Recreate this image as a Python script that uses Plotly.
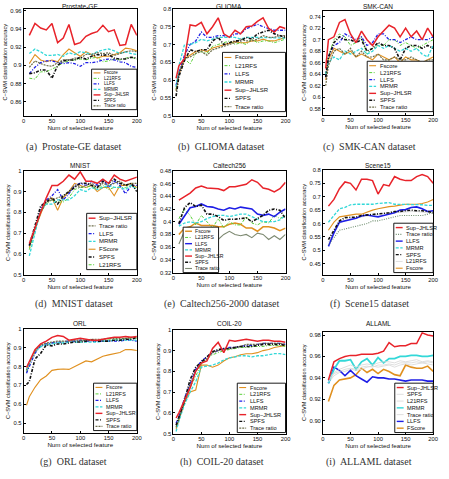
import plotly.graph_objects as go

W, H = 449, 479

# ---------------- data ----------------
X5 = [5] + list(range(10, 201, 10))
X10 = list(range(10, 201, 10))

prostate = {
    "Fscore":      [0.902,0.912,0.906,0.904,0.906,0.904,0.912,0.918,0.914,0.910,0.915,0.912,0.908,0.910,0.910,0.912,0.914,0.919,0.918,0.916],
    "L21RFS":      [0.886,0.885,0.893,0.893,0.896,0.899,0.903,0.905,0.906,0.907,0.906,0.908,0.909,0.904,0.905,0.907,0.906,0.908,0.909,0.907],
    "LLFS":        [0.891,0.898,0.903,0.905,0.905,0.903,0.902,0.903,0.902,0.899,0.903,0.903,0.904,0.906,0.907,0.906,0.904,0.903,0.899,0.898],
    "MRMR":        [0.913,0.918,0.915,0.911,0.911,0.912,0.910,0.914,0.912,0.915,0.914,0.912,0.915,0.917,0.918,0.916,0.913,0.915,0.913,0.912],
    "Sup-JHLSR":   [0.933,0.946,0.941,0.939,0.946,0.925,0.930,0.945,0.923,0.925,0.932,0.935,0.937,0.944,0.937,0.939,0.922,0.923,0.945,0.933],
    "SPFS":        [0.891,0.892,0.895,0.895,0.886,0.900,0.905,0.906,0.906,0.909,0.907,0.910,0.912,0.911,0.912,0.908,0.907,0.907,0.909,0.908],
    "Trace ratio": [0.898,0.905,0.902,0.900,0.899,0.903,0.906,0.906,0.908,0.908,0.912,0.912,0.914,0.913,0.914,0.911,0.913,0.915,0.916,0.915],
}
glioma = {
    "Fscore":      [0.570,0.615,0.660,0.670,0.680,0.685,0.680,0.690,0.695,0.700,0.705,0.708,0.705,0.705,0.710,0.710,0.715,0.710,0.710,0.715,0.720],
    "L21RFS":      [0.575,0.620,0.660,0.645,0.675,0.680,0.675,0.695,0.700,0.705,0.710,0.700,0.705,0.700,0.715,0.705,0.710,0.710,0.705,0.710,0.715],
    "LLFS":        [0.585,0.620,0.670,0.700,0.710,0.735,0.720,0.720,0.725,0.725,0.720,0.730,0.730,0.745,0.750,0.757,0.750,0.745,0.740,0.740,0.740],
    "MRMR":        [0.580,0.640,0.700,0.700,0.705,0.715,0.710,0.715,0.720,0.720,0.720,0.720,0.715,0.720,0.720,0.720,0.720,0.720,0.720,0.720,0.718],
    "Sup-JHLSR":   [0.605,0.640,0.660,0.755,0.752,0.762,0.730,0.750,0.775,0.730,0.720,0.740,0.730,0.750,0.752,0.765,0.775,0.745,0.735,0.750,0.745],
    "SPFS":        [0.555,0.610,0.655,0.685,0.680,0.685,0.685,0.710,0.720,0.700,0.705,0.710,0.710,0.720,0.715,0.730,0.735,0.740,0.730,0.725,0.720],
    "Trace ratio": [0.570,0.620,0.660,0.665,0.675,0.680,0.670,0.685,0.690,0.695,0.700,0.705,0.715,0.710,0.710,0.715,0.725,0.720,0.720,0.725,0.725],
}
smkcan = {
    "Fscore":      [0.630,0.665,0.685,0.680,0.675,0.680,0.670,0.675,0.670,0.665,0.675,0.670,0.665,0.670,0.660,0.670,0.665,0.665,0.660,0.665,0.670],
    "L21RFS":      [0.640,0.670,0.700,0.710,0.705,0.690,0.695,0.705,0.675,0.685,0.690,0.690,0.700,0.700,0.690,0.695,0.690,0.685,0.690,0.695,0.700],
    "LLFS":        [0.635,0.670,0.690,0.695,0.710,0.705,0.700,0.705,0.690,0.695,0.710,0.710,0.700,0.700,0.695,0.700,0.705,0.700,0.700,0.700,0.705],
    "MRMR":        [0.640,0.660,0.670,0.665,0.680,0.675,0.680,0.685,0.675,0.680,0.690,0.685,0.690,0.685,0.680,0.685,0.680,0.685,0.675,0.670,0.690],
    "Sup-JHLSR":   [0.650,0.700,0.705,0.730,0.735,0.710,0.695,0.715,0.700,0.690,0.705,0.715,0.725,0.720,0.705,0.720,0.705,0.715,0.700,0.720,0.705],
    "SPFS":        [0.635,0.670,0.695,0.705,0.700,0.700,0.695,0.700,0.680,0.685,0.695,0.690,0.690,0.685,0.665,0.685,0.690,0.690,0.685,0.690,0.685],
    "Trace ratio": [0.620,0.655,0.680,0.685,0.675,0.685,0.670,0.680,0.670,0.670,0.675,0.665,0.665,0.670,0.665,0.665,0.670,0.665,0.660,0.665,0.665],
}
mnist = {
    "Fscore":      [0.63,0.72,0.79,0.86,0.87,0.81,0.87,0.90,0.94,0.93,0.92,0.93,0.90,0.92,0.92,0.88,0.93,0.93,0.94,0.92],
    "L21RFS":      [0.62,0.71,0.80,0.84,0.86,0.85,0.85,0.87,0.91,0.92,0.92,0.93,0.91,0.93,0.91,0.92,0.92,0.92,0.93,0.92],
    "LLFS":        [0.64,0.72,0.82,0.86,0.88,0.91,0.86,0.89,0.93,0.94,0.93,0.95,0.93,0.96,0.92,0.95,0.93,0.89,0.93,0.93],
    "MRMR":        [0.59,0.70,0.81,0.84,0.84,0.86,0.86,0.86,0.88,0.91,0.90,0.92,0.91,0.92,0.93,0.92,0.92,0.91,0.93,0.91],
    "Sup-JHLSR":   [0.65,0.73,0.80,0.87,0.93,0.93,0.95,0.98,0.96,0.995,0.95,0.95,0.94,0.96,0.94,0.98,0.96,0.95,0.96,0.97],
    "SPFS":        [0.64,0.73,0.83,0.85,0.87,0.84,0.88,0.90,0.92,0.94,0.94,0.93,0.92,0.95,0.94,0.96,0.94,0.93,0.94,0.90],
    "Trace ratio": [0.64,0.72,0.80,0.85,0.86,0.87,0.88,0.90,0.93,0.92,0.93,0.94,0.92,0.94,0.93,0.94,0.95,0.93,0.94,0.94],
}
caltech = {
    "Fscore":      [0.380,0.390,0.392,0.398,0.394,0.394,0.394,0.392,0.392,0.396,0.398,0.396,0.390,0.390,0.385,0.392,0.392,0.390,0.386,0.390],
    "L21RFS":      [0.405,0.420,0.410,0.395,0.410,0.400,0.390,0.405,0.390,0.400,0.395,0.395,0.408,0.398,0.395,0.400,0.398,0.410,0.405,0.410],
    "LLFS":        [0.396,0.410,0.422,0.424,0.428,0.424,0.423,0.420,0.418,0.422,0.420,0.423,0.421,0.420,0.412,0.410,0.412,0.408,0.415,0.420],
    "MRMR":        [0.393,0.398,0.400,0.398,0.400,0.405,0.408,0.410,0.410,0.408,0.410,0.412,0.412,0.408,0.405,0.400,0.400,0.400,0.403,0.410],
    "Sup-JHLSR":   [0.434,0.440,0.445,0.453,0.456,0.453,0.452,0.452,0.449,0.455,0.455,0.457,0.459,0.466,0.462,0.453,0.451,0.447,0.452,0.462],
    "SPFS":        [0.397,0.422,0.430,0.424,0.426,0.412,0.412,0.408,0.402,0.404,0.404,0.405,0.406,0.400,0.405,0.410,0.418,0.420,0.418,0.405],
    "Trace ratio": [0.365,0.385,0.390,0.385,0.378,0.375,0.380,0.372,0.380,0.385,0.380,0.378,0.380,0.375,0.382,0.380,0.372,0.378,0.372,0.380],
}
scene15 = {
    "Fscore":      [0.575,0.605,0.625,0.628,0.632,0.635,0.635,0.643,0.650,0.655,0.660,0.663,0.665,0.668,0.672,0.672,0.672,0.675,0.680,0.690],
    "L21RFS":      [0.530,0.565,0.600,0.612,0.615,0.620,0.625,0.628,0.630,0.632,0.635,0.640,0.640,0.642,0.645,0.645,0.645,0.642,0.640,0.645],
    "LLFS":        [0.515,0.565,0.605,0.610,0.615,0.620,0.628,0.632,0.628,0.625,0.630,0.635,0.640,0.650,0.652,0.660,0.662,0.655,0.645,0.648],
    "MRMR":        [0.605,0.630,0.655,0.660,0.670,0.672,0.672,0.672,0.672,0.675,0.677,0.678,0.672,0.672,0.672,0.672,0.672,0.670,0.668,0.668],
    "Sup-JHLSR":   [0.665,0.690,0.730,0.755,0.750,0.725,0.765,0.765,0.760,0.710,0.745,0.740,0.775,0.765,0.760,0.760,0.775,0.783,0.775,0.750],
    "SPFS":        [0.540,0.575,0.610,0.622,0.622,0.624,0.630,0.632,0.635,0.635,0.637,0.640,0.645,0.645,0.648,0.650,0.648,0.648,0.645,0.640],
    "Trace ratio": [0.520,0.550,0.575,0.580,0.585,0.590,0.595,0.600,0.610,0.610,0.615,0.620,0.625,0.630,0.630,0.630,0.628,0.630,0.635,0.640],
}
orl = {
    "Fscore":      [0.595,0.640,0.690,0.730,0.750,0.780,0.785,0.787,0.785,0.800,0.815,0.830,0.825,0.840,0.855,0.862,0.870,0.875,0.890,0.890,0.885],
    "L21RFS":      [0.770,0.810,0.875,0.910,0.920,0.925,0.930,0.930,0.935,0.935,0.935,0.940,0.940,0.940,0.940,0.945,0.945,0.945,0.950,0.950,0.950],
    "LLFS":        [0.765,0.800,0.870,0.910,0.920,0.925,0.930,0.930,0.935,0.935,0.940,0.935,0.935,0.935,0.935,0.935,0.935,0.935,0.940,0.940,0.935],
    "MRMR":        [0.780,0.820,0.880,0.905,0.915,0.920,0.925,0.925,0.930,0.930,0.930,0.930,0.930,0.930,0.935,0.935,0.940,0.940,0.940,0.940,0.940],
    "Sup-JHLSR":   [0.795,0.830,0.890,0.920,0.935,0.955,0.965,0.960,0.940,0.945,0.950,0.945,0.940,0.940,0.945,0.950,0.955,0.955,0.960,0.955,0.960],
    "SPFS":        [0.705,0.720,0.840,0.870,0.915,0.910,0.920,0.920,0.925,0.930,0.930,0.935,0.940,0.935,0.935,0.935,0.940,0.940,0.945,0.945,0.955],
    "Trace ratio": [0.780,0.820,0.880,0.915,0.925,0.930,0.935,0.935,0.935,0.940,0.940,0.940,0.945,0.945,0.945,0.950,0.950,0.950,0.950,0.955,0.955],
}
coil20 = {
    "Fscore":      [0.520,0.560,0.650,0.700,0.710,0.830,0.830,0.820,0.830,0.850,0.865,0.870,0.880,0.885,0.885,0.890,0.900,0.905,0.915,0.920,0.925],
    "L21RFS":      [0.530,0.570,0.655,0.720,0.780,0.835,0.860,0.880,0.890,0.900,0.905,0.910,0.915,0.915,0.920,0.920,0.920,0.925,0.925,0.925,0.920],
    "LLFS":        [0.550,0.580,0.670,0.740,0.810,0.850,0.870,0.890,0.900,0.910,0.915,0.915,0.920,0.925,0.925,0.930,0.935,0.935,0.935,0.935,0.930],
    "MRMR":        [0.510,0.560,0.640,0.700,0.750,0.820,0.825,0.830,0.840,0.855,0.865,0.870,0.875,0.875,0.870,0.875,0.875,0.880,0.885,0.885,0.880],
    "Sup-JHLSR":   [0.575,0.600,0.660,0.720,0.800,0.840,0.850,0.910,0.940,0.890,0.950,0.945,0.950,0.955,0.950,0.945,0.950,0.950,0.945,0.945,0.940],
    "SPFS":        [0.540,0.580,0.660,0.760,0.820,0.845,0.870,0.895,0.905,0.910,0.910,0.915,0.920,0.920,0.920,0.925,0.930,0.930,0.930,0.930,0.925],
    "Trace ratio": [0.530,0.570,0.660,0.730,0.800,0.840,0.860,0.890,0.900,0.905,0.910,0.915,0.920,0.930,0.930,0.930,0.935,0.935,0.935,0.935,0.930],
}
allaml = {
    "Fscore":      [0.918,0.933,0.938,0.939,0.940,0.943,0.949,0.945,0.948,0.944,0.948,0.946,0.943,0.942,0.952,0.950,0.949,0.949,0.951,0.946],
    "L21RFS":      [0.935,0.942,0.945,0.946,0.948,0.947,0.948,0.950,0.951,0.950,0.951,0.952,0.950,0.952,0.953,0.952,0.953,0.954,0.953,0.952],
    "LLFS":        [0.935,0.950,0.947,0.942,0.947,0.942,0.939,0.936,0.941,0.940,0.940,0.939,0.939,0.938,0.937,0.938,0.938,0.938,0.937,0.937],
    "MRMR":        [0.935,0.948,0.956,0.956,0.957,0.948,0.955,0.958,0.952,0.959,0.954,0.958,0.958,0.960,0.960,0.961,0.961,0.960,0.960,0.961],
    "Sup-JHLSR":   [0.938,0.955,0.958,0.960,0.961,0.961,0.962,0.962,0.962,0.963,0.965,0.973,0.969,0.970,0.970,0.972,0.972,0.982,0.980,0.979],
    "SPFS":        [0.938,0.945,0.948,0.950,0.952,0.950,0.952,0.953,0.952,0.954,0.955,0.955,0.954,0.956,0.955,0.956,0.957,0.955,0.956,0.955],
    "Trace ratio": [0.936,0.944,0.946,0.948,0.949,0.948,0.950,0.951,0.950,0.952,0.952,0.953,0.952,0.954,0.954,0.954,0.955,0.954,0.955,0.954],
}

ORDER_A = ["Fscore", "L21RFS", "LLFS", "MRMR", "Sup-JHLSR", "SPFS", "Trace ratio"]
ORDER_D = ["Sup-JHLSR", "Trace ratio", "LLFS", "MRMR", "Fscore", "SPFS", "L21RFS"]
ORDER_F = ["Sup-JHLSR", "Trace ratio", "LLFS", "MRMR", "SPFS", "L21RFS", "Fscore"]
ORDER_I = ["Sup-JHLSR", "SPFS", "L21RFS", "MRMR", "Trace ratio", "LLFS", "Fscore"]

# ---------------- styles ----------------
DASH = "3px,1.5px"
DASHDOT = "3px,1.5px,1px,1.5px"
DOT = "1px,1.3px"
STYLE = {
    "Fscore":      dict(color="#E0901F", dash="solid", width=1.1),
    "L21RFS":      dict(color="#5BD13A", dash=DASHDOT, width=1.0),
    "LLFS":        dict(color="#1E1EE6", dash=DASHDOT, width=1.3),
    "MRMR":        dict(color="#33D8D8", dash=DASH, width=1.3),
    "Sup-JHLSR":   dict(color="#E8232A", dash="solid", width=1.5),
    "SPFS":        dict(color="#111111", dash=DASHDOT, width=1.6),
    "Trace ratio": dict(color="#6F6F4C", dash="2px,1px", width=1.2),
}
LIGHT = dict(color="#DADADA", dash="solid", width=0.9)

def disp(name, fs_caps=False):
    if name == "Sup-JHLSR":
        return "Sup\u2212JHLSR"
    if name == "Fscore" and fs_caps:
        return "FScore"
    return name

panels = [
    dict(title="Prostate-GE", cap="(a)  Prostate-GE dataset", x=X10, d=prostate,
         yr=[0.845, 0.962], yt=[0.86, 0.88, 0.90, 0.92, 0.94, 0.96],
         ytt=["0.86", "0.88", "0.9", "0.92", "0.94", "0.96"],
         box=(22, 137, 6, 114), leg=(91, 67, 137, 108), order=ORDER_A, caps=False, over={}),
    dict(title="GLIOMA", cap="(b)  GLIOMA dataset", x=X5, d=glioma,
         yr=[0.5, 0.8], yt=[0.5, 0.55, 0.6, 0.65, 0.7, 0.75, 0.8],
         ytt=["0.5", "0.55", "0.6", "0.65", "0.7", "0.75", "0.8"],
         box=(174, 288, 6, 114), leg=(224, 50, 288, 110), order=ORDER_A, caps=False, over={}),
    dict(title="SMK-CAN", cap="(c)  SMK-CAN dataset", x=X5, d=smkcan,
         yr=[0.57, 0.75], yt=[0.58, 0.60, 0.62, 0.64, 0.66, 0.68, 0.70, 0.72, 0.74],
         ytt=["0.58", "0.6", "0.62", "0.64", "0.66", "0.68", "0.7", "0.72", "0.74"],
         box=(326, 438, 8, 113), leg=(371, 59, 438, 110), order=ORDER_A, caps=False, over={}),
    dict(title="MNIST", cap="(d)  MNIST dataset", x=X10, d=mnist,
         yr=[0.5, 1.0], yt=[0.5, 0.6, 0.7, 0.8, 0.9, 1.0],
         ytt=["0.5", "0.6", "0.7", "0.8", "0.9", "1"],
         box=(22, 137, 170, 275), leg=(86, 213, 137, 270), order=ORDER_D, caps=True, over={}),
    dict(title="Caltech256", cap="(e)  Caltech256-2000 dataset", x=X10, d=caltech,
         yr=[0.32, 0.48], yt=[0.32, 0.34, 0.36, 0.38, 0.40, 0.42, 0.44, 0.46, 0.48],
         ytt=["0.32", "0.34", "0.36", "0.38", "0.4", "0.42", "0.44", "0.46", "0.48"],
         box=(174, 288, 170, 273), leg=(184, 227, 220, 273), order=ORDER_A, caps=False,
         over={"LLFS": dict(color="#1E1EE6", dash="solid", width=1.6),
               "Fscore": dict(color="#E0901F", dash="solid", width=1.5),
               "Trace ratio": dict(color="#7E8A72", dash="solid", width=1.1)}),
    dict(title="Scene15", cap="(f)  Scene15 dataset", x=X10, d=scene15,
         yr=[0.41, 0.8], yt=[0.45, 0.5, 0.55, 0.6, 0.65, 0.7, 0.75, 0.8],
         ytt=["0.45", "0.5", "0.55", "0.6", "0.65", "0.7", "0.75", "0.8"],
         box=(326, 438, 169, 275), leg=(398, 223, 438, 273), order=ORDER_F, caps=False,
         over={"LLFS": dict(color="#1E1EE6", dash="solid", width=1.6),
               "L21RFS": LIGHT,
               "Trace ratio": dict(color="#6E8E6E", dash=DOT, width=1.1)}),
    dict(title="ORL", cap="(g)  ORL dataset", x=X5, d=orl,
         yr=[0.45, 1.0], yt=[0.5, 0.6, 0.7, 0.8, 0.9, 1.0],
         ytt=["0.5", "0.6", "0.7", "0.8", "0.9", "1"],
         box=(22, 137, 330, 435), leg=(93, 385, 137, 433), order=ORDER_A, caps=False, over={}),
    dict(title="COIL-20", cap="(h)  COIL-20 dataset", x=X5, d=coil20,
         yr=[0.5, 1.0], yt=[0.5, 0.6, 0.7, 0.8, 0.9, 1.0],
         ytt=["0.5", "0.6", "0.7", "0.8", "0.9", "1"],
         box=(174, 288, 331, 436), leg=(239, 385, 288, 435), order=ORDER_A, caps=False, over={}),
    dict(title="ALLAML", cap="(i)  ALLAML dataset", x=X10, d=allaml,
         yr=[0.888, 0.983], yt=[0.90, 0.92, 0.94, 0.96, 0.98],
         ytt=["0.90", "0.92", "0.94", "0.96", "0.98"],
         box=(326, 438, 333, 436), leg=(399, 385, 438, 435), order=ORDER_I, caps=True,
         over={"SPFS": LIGHT, "L21RFS": LIGHT, "Trace ratio": LIGHT,
               "LLFS": dict(color="#1E1EE6", dash="solid", width=1.6),
               "Fscore": dict(color="#E0901F", dash="solid", width=1.6),
               "MRMR": dict(color="#33D8D8", dash="solid", width=1.8)}),
]

CAP_Y = [146, 146, 146, 305, 305, 305, 465, 465, 465]
TITLE_Y = [4, 4, 4, 165, 165, 165, 325, 325, 325]

def PX(x):
    return x / W

def PY(y):
    return 1 - y / H

fig = go.Figure()
layout = dict(width=W, height=H, margin=dict(l=0, r=0, t=0, b=0),
              paper_bgcolor="white", plot_bgcolor="white", showlegend=False,
              font=dict(family="Liberation Sans, Arial", color="#111111"))
shapes = []
annotations = []

DRAW_ORDER = ["Fscore", "L21RFS", "LLFS", "MRMR", "Trace ratio", "SPFS", "Sup-JHLSR"]

for i, p in enumerate(panels):
    k = "" if i == 0 else str(i + 1)
    xa, ya = "x" + k, "y" + k
    x0, x1, y0, y1 = p["box"]
    styles = {m: p["over"].get(m, STYLE[m]) for m in STYLE}
    for m in DRAW_ORDER:
        s = styles[m]
        fig.add_trace(go.Scatter(x=p["x"], y=p["d"][m], mode="lines", name=disp(m, p["caps"]),
                                 line=dict(color=s["color"], dash=s["dash"], width=s["width"]),
                                 xaxis=xa, yaxis=ya, hoverinfo="skip"))
    axcommon = dict(showline=True, linecolor="black", linewidth=0.8, mirror=True,
                    ticks="inside", ticklen=2, tickwidth=0.6, tickcolor="black",
                    showgrid=False, zeroline=False,
                    tickfont=dict(size=5.8, color="#111111"))
    layout["xaxis" + k] = dict(domain=[PX(x0), PX(x1)], range=[0, 200], anchor=ya,
                               tickvals=[0, 50, 100, 150, 200],
                               title=dict(text="Num of selected feature", font=dict(size=6.2), standoff=1),
                               **axcommon)
    layout["yaxis" + k] = dict(domain=[PY(y1), PY(y0)], range=p["yr"], anchor=xa,
                               tickvals=p["yt"], ticktext=p["ytt"],
                               title=dict(text="C\u2212SVM classification accuracy", font=dict(size=5.6), standoff=2),
                               **axcommon)
    annotations.append(dict(x=PX((x0 + x1) / 2), y=PY(TITLE_Y[i]), xref="paper", yref="paper",
                            text=p["title"], showarrow=False, xanchor="center", yanchor="middle",
                            font=dict(size=6.5, color="#111111")))
    col = i % 3
    annotations.append(dict(x=PX(col * 150 + 73), y=PY(CAP_Y[i]), xref="paper", yref="paper",
                            text=p["cap"], showarrow=False, xanchor="center", yanchor="middle",
                            font=dict(size=10, family="Liberation Serif", color="#333333")))
    lx0, ly0, lx1, ly1 = p["leg"]
    shapes.append(dict(type="rect", xref="paper", yref="paper", x0=PX(lx0), x1=PX(lx1),
                       y0=PY(ly1), y1=PY(ly0), line=dict(color="black", width=0.9),
                       fillcolor="white", layer="above"))
    n = len(p["order"])
    rowh = (ly1 - ly0 - 2) / n
    fsz = min(6.0, rowh * 0.82)
    for j, m in enumerate(p["order"]):
        cy = ly0 + 1 + rowh * (j + 0.5)
        s = styles[m]
        shapes.append(dict(type="line", xref="paper", yref="paper", x0=PX(lx0 + 2), x1=PX(lx0 + 9),
                           y0=PY(cy), y1=PY(cy),
                           line=dict(color=s["color"], width=min(s["width"], 1.4), dash=s["dash"]),
                           layer="above"))
        annotations.append(dict(x=PX(lx0 + 10.5), y=PY(cy), xref="paper", yref="paper",
                                text=disp(m, p["caps"]), showarrow=False, xanchor="left",
                                yanchor="middle", font=dict(size=fsz, color="#111111")))

layout["shapes"] = shapes
layout["annotations"] = annotations
fig.update_layout(**layout)
fig.write_html("out.html")
